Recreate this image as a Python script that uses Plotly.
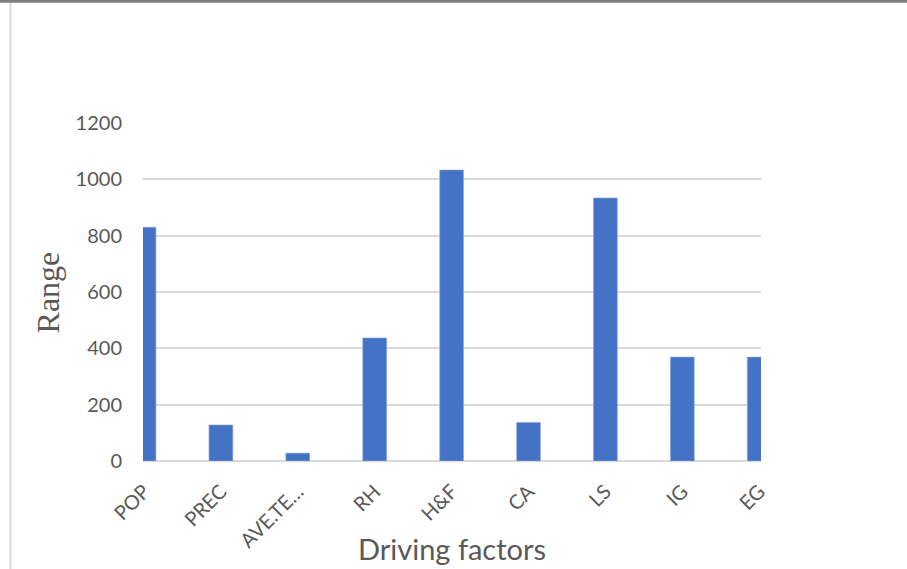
import plotly.graph_objects as go

# Driving factors and their range values
factors = ["POP", "PREC", "AVE.TE…", "RH", "H&F", "CA", "LS", "IG", "EG"]
ranges = [830, 128, 28, 437, 1033, 137, 934, 369, 369]
y_ticks = [0, 200, 400, 600, 800, 1000, 1200]

positions = list(range(len(factors)))

fig = go.Figure(
    go.Bar(
        x=positions,
        y=ranges,
        width=0.31,
        marker=dict(color="#4472C4", line=dict(color="#8FAADC", width=0.6)),
    )
)

tick_font = dict(family="Lato, Carlito, sans-serif", size=20, color="#595959")

fig.update_layout(
    width=907,
    height=569,
    margin=dict(l=143, r=146, t=123, b=108),
    paper_bgcolor="white",
    plot_bgcolor="white",
    showlegend=False,
    xaxis=dict(
        range=[-0.013, 8.023],
        tickmode="array",
        tickvals=positions,
        ticktext=factors,
        tickangle=-45,
        tickfont=tick_font,
        showgrid=False,
        zeroline=False,
        showline=False,
        ticks="",
        ticklabelstandoff=14,
        fixedrange=True,
    ),
    yaxis=dict(
        range=[0, 1200],
        tickmode="array",
        tickvals=y_ticks,
        ticktext=[str(v) for v in y_ticks],
        tickfont=tick_font,
        showgrid=True,
        gridcolor="#D9D9D9",
        gridwidth=1.5,
        zeroline=True,
        zerolinecolor="#D9D9D9",
        zerolinewidth=2,
        showline=False,
        ticks="",
        ticklabelstandoff=20,
        fixedrange=True,
    ),
    annotations=[
        dict(
            text="Range",
            xref="paper", yref="paper",
            x=-0.153, y=0.5,
            xanchor="center", yanchor="middle",
            textangle=-90,
            showarrow=False,
            font=dict(family="Liberation Serif, Times New Roman, serif", size=32, color="#595959"),
        ),
        dict(
            text="Driving factors",
            xref="paper", yref="paper",
            x=0.5, y=-0.258,
            xanchor="center", yanchor="middle",
            showarrow=False,
            font=dict(family="Lato, Carlito, sans-serif", size=29, color="#595959"),
        ),
    ],
    shapes=[
        # frame: dark rule along the top edge
        dict(type="line", xref="paper", yref="paper",
             x0=-0.3, x1=1.3, y0=1.362, y1=1.362,
             line=dict(color="#7F7F7F", width=4)),
        # frame: light rule on the left edge
        dict(type="line", xref="paper", yref="paper",
             x0=-0.2144, x1=-0.2144, y0=1.355, y1=-0.4,
             line=dict(color="#D9D9D9", width=2)),
    ],
)

fig.write_html("out.html")
